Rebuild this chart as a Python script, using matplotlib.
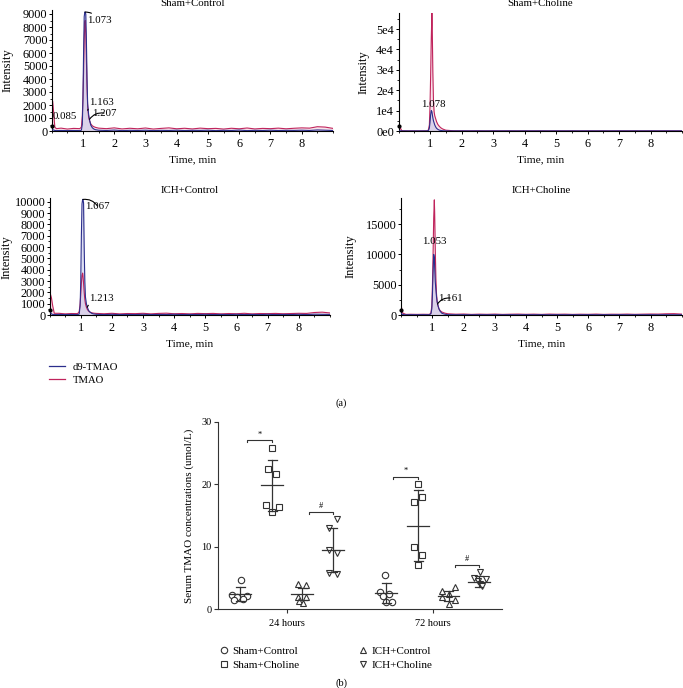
import matplotlib
matplotlib.use("Agg")
import matplotlib.pyplot as plt
from matplotlib.ticker import MultipleLocator, FixedLocator
from matplotlib.lines import Line2D

plt.rcParams['font.family'] = ['Liberation Serif', 'DejaVu Serif']

W, H = 683, 688
BLUE = '#2b2e8c'
PINK = '#c0245c'
BLUE_FILL = '#c4c6ea'
PINK_FILL = '#f2c0d2'

# ---------------- (a) chromatograms ----------------
t_min = [0.0, 0.03, 0.06, 0.1, 0.15, 0.3, 0.5, 0.7, 0.9, 0.95, 0.98, 1.0, 1.02, 1.04,
         1.06, 1.07, 1.09, 1.11, 1.13, 1.15, 1.18, 1.21, 1.25, 1.3, 1.35, 1.4, 1.45,
         1.5, 1.75, 2.0, 2.25, 2.5, 2.75, 3.0, 3.25, 3.5, 3.75, 4.0, 4.25, 4.5, 4.75,
         5.0, 5.25, 5.5, 5.75, 6.0, 6.25, 6.5, 6.75, 7.0, 7.25, 7.5, 7.75, 8.0, 8.25,
         8.5, 8.75, 9.0]

sham_ctrl_tmao = [300, 2300, 1500, 300, 180, 220, 150, 200, 180, 300, 1200, 2500, 4500, 7000,
                  8300, 8500, 7500, 5500, 3400, 1900, 1100, 800, 550, 400, 330, 280, 250,
                  220, 180, 240, 160, 210, 170, 230, 150, 200, 240, 170, 210, 160, 220,
                  180, 200, 150, 210, 170, 230, 160, 200, 180, 220, 170, 210, 240, 220,
                  330, 300, 200]
sham_ctrl_d9 = [50, 100, 80, 40, 30, 40, 30, 40, 30, 60, 500, 2500, 6000, 8800,
                9150, 9150, 9000, 7000, 4000, 2100, 1300, 850, 450, 250, 150, 100, 80,
                60, 40, 70, 30, 50, 40, 60, 30, 50, 40, 60, 35, 50, 45,
                60, 30, 50, 40, 70, 30, 50, 40, 60, 35, 50, 45, 60, 40,
                80, 60, 40]

sham_chol_tmao = [1500, 1200, 1500, 200, 100, 50, 50, 50, 100, 500, 3000, 12000, 27000, 45000,
                  58000, 52000, 29000, 15000, 9500, 7500, 6000, 4500, 3200, 2200, 1500, 1000, 700,
                  400, 100, 80, 60, 90, 50, 70, 60, 80, 50, 70, 60, 80, 50,
                  70, 60, 80, 50, 70, 60, 80, 50, 70, 60, 80, 50, 70, 60,
                  90, 70, 60]
sham_chol_d9 = [200, 100, 100, 60, 50, 40, 40, 40, 50, 200, 1500, 4000, 8000, 10000,
                9500, 8500, 6500, 5000, 4000, 3000, 2000, 1300, 800, 400, 250, 150, 100,
                60, 40, 50, 40, 50, 40, 50, 40, 50, 40, 50, 40, 50, 40,
                50, 40, 50, 40, 50, 40, 50, 40, 50, 40, 50, 40, 50, 40,
                50, 40, 50]

ich_ctrl_tmao = [2200, 1800, 1500, 800, 150, 150, 100, 130, 120, 300, 1000, 1800, 2800, 3500,
                 3700, 3500, 2800, 2000, 1400, 1000, 700, 500, 350, 250, 200, 170, 150,
                 140, 110, 150, 100, 130, 120, 150, 100, 140, 160, 110, 130, 100, 140,
                 120, 140, 100, 130, 110, 150, 100, 130, 120, 140, 110, 130, 150, 140,
                 220, 250, 180]
ich_ctrl_d9 = [500, 200, 100, 50, 40, 50, 40, 50, 40, 80, 800, 3000, 7000, 9800,
               10200, 10200, 9900, 6000, 3000, 1600, 1000, 700, 400, 250, 150, 100, 80,
               60, 40, 60, 40, 50, 40, 60, 40, 50, 45, 60, 40, 50, 45,
               60, 40, 50, 40, 60, 40, 50, 40, 60, 40, 50, 45, 60, 40,
               70, 60, 50]

ich_chol_tmao = [1500, 400, 300, 200, 100, 120, 100, 120, 100, 300, 1500, 5000, 10000, 16000,
                 19000, 17000, 11000, 6000, 3500, 2200, 1500, 1000, 700, 500, 400, 300, 250,
                 200, 130, 160, 100, 140, 110, 150, 100, 130, 150, 110, 140, 100, 150,
                 120, 140, 100, 130, 110, 150, 100, 130, 120, 150, 110, 140, 160, 150,
                 200, 220, 150]
ich_chol_d9 = [300, 100, 80, 50, 40, 50, 40, 50, 40, 200, 1000, 3500, 7000, 10000,
               9500, 8000, 5500, 4200, 3000, 2200, 1500, 1000, 600, 300, 200, 120, 80,
               60, 40, 50, 40, 50, 40, 50, 40, 50, 40, 50, 40, 50, 40,
               50, 40, 50, 40, 50, 40, 50, 40, 50, 40, 50, 40, 50, 40,
               50, 40, 50]

panel_titles = ['Sham+Control', 'Sham+Choline', 'ICH+Control', 'ICH+Choline']
tmao_traces = [sham_ctrl_tmao, sham_chol_tmao, ich_ctrl_tmao, ich_chol_tmao]
d9_traces = [sham_ctrl_d9, sham_chol_d9, ich_ctrl_d9, ich_chol_d9]
ytick_vals = [[0, 1000, 2000, 3000, 4000, 5000, 6000, 7000, 8000, 9000],
              [0, 10000, 20000, 30000, 40000, 50000],
              [0, 1000, 2000, 3000, 4000, 5000, 6000, 7000, 8000, 9000, 10000],
              [0, 5000, 10000, 15000]]
ytick_labels = [None, ['0e0', '1e4', '2e4', '3e4', '4e4', '5e4'], None, None]
ymax = [9300, 58000, 10300, 19300]
# (label, peak point, text point, alignment, leader line)
peak_labels = [
    [('1.073', (1.07, 9150), (1.12, 8500), 'left', True),
     ('1.163', (1.15, 1600), (1.19, 2230), 'left', True),
     ('1.207', (1.21, 900), (1.28, 1380), 'left', True),
     ('0.085', None, (0.04, 1150), 'left', False)],
    [('1.078', None, (1.1, 13200), 'center', False)],
    [('1.067', (1.07, 10200), (1.14, 9620), 'left', True),
     ('1.213', (1.21, 700), (1.28, 1500), 'left', True)],
    [('1.053', None, (1.06, 12100), 'center', False),
     ('1.161', (1.16, 1800), (1.17, 2800), 'left', True)],
]

# ---------------- (b) serum TMAO ----------------
groups = ['Sham+Control', 'Sham+Choline', 'ICH+Control', 'ICH+Choline']
timepoints = ['24 hours', '72 hours']
sham_ctrl_24 = [4.7, 2.3, 2.2, 1.9, 1.6, 1.5]
sham_chol_24 = [25.8, 22.4, 21.6, 16.7, 16.4, 15.6]
ich_ctrl_24 = [4.1, 3.9, 2.0, 1.9, 1.3, 1.0]
ich_chol_24 = [14.4, 13.0, 9.5, 9.0, 5.8, 5.6]
sham_ctrl_72 = [5.5, 2.8, 2.5, 2.2, 1.2, 1.1]
sham_chol_72 = [20.0, 17.9, 17.1, 9.9, 8.7, 7.1]
ich_ctrl_72 = [3.5, 2.9, 2.5, 1.9, 1.5, 0.9]
ich_chol_72 = [5.9, 5.0, 4.8, 4.5, 4.0, 3.7]
means_24 = [2.45, 19.8, 2.4, 9.5]
sds_24 = [1.05, 4.1, 0.95, 3.5]
means_72 = [2.55, 13.4, 2.2, 4.4]
sds_72 = [1.6, 5.6, 0.8, 0.85]
sig_marks = ['*', '#']

values = [[sham_ctrl_24, sham_chol_24, ich_ctrl_24, ich_chol_24],
          [sham_ctrl_72, sham_chol_72, ich_ctrl_72, ich_chol_72]]
means = [means_24, means_72]
sds = [sds_24, sds_72]


# layout helper (pixel box -> figure fractions)
def rect(x0, x1, ytop, ybot):
    return [x0 / W, 1 - ybot / H, (x1 - x0) / W, (ybot - ytop) / H]


fig = plt.figure(figsize=(W / 100, H / 100), dpi=100)

# axes boxes in pixels: x0, x1, y of zero line, px per intensity unit
boxes = [(51.7, 333, 131, 0.013), (398.5, 682, 131, 0.00204),
         (49.6, 330, 315, 0.01133), (401.3, 681.7, 315, 0.00606)]
title_y = [4, 4, 191, 191]
ylabel_x = [8, 363.7, 6.7, 351]
xlabel_gap = 29

for i in range(4):
    x0, x1, yb, k = boxes[i]
    ytop = yb - ymax[i] * k
    ax = fig.add_axes(rect(x0, x1, ytop, yb))
    ax.fill_between(t_min, tmao_traces[i], color=PINK_FILL, alpha=0.45, lw=0, zorder=1)
    ax.fill_between(t_min, d9_traces[i], color=BLUE_FILL, alpha=0.55, lw=0, zorder=1)
    ax.plot(t_min, tmao_traces[i], color=PINK, lw=0.8, zorder=2)
    ax.plot(t_min, d9_traces[i], color=BLUE, lw=0.8, zorder=3)
    ax.plot([0.0], [ymax[i] * 0.045], 'o', color='k', ms=2, zorder=4, clip_on=False)
    ax.set_xlim(0, 9)
    ax.set_ylim(0, ymax[i])
    for s in ['top', 'right']:
        ax.spines[s].set_visible(False)
    for s in ['left', 'bottom']:
        ax.spines[s].set_linewidth(0.8)
    ax.xaxis.set_major_locator(FixedLocator([1, 2, 3, 4, 5, 6, 7, 8]))
    ax.xaxis.set_minor_locator(MultipleLocator(0.5))
    ax.yaxis.set_major_locator(FixedLocator(ytick_vals[i]))
    step = ytick_vals[i][1] - ytick_vals[i][0]
    ax.yaxis.set_minor_locator(MultipleLocator(step / 2))
    if ytick_labels[i] is not None:
        ax.set_yticklabels(ytick_labels[i])
    ax.tick_params(which='major', length=2.2, width=0.7, labelsize=8.8)
    ax.tick_params(axis='y', which='major', pad=1)
    ax.tick_params(axis='x', which='major', pad=3)
    ax.tick_params(which='minor', length=1.4, width=0.6)
    hpx = yb - ytop
    ax.set_xlabel('Time, min', fontsize=8.2)
    ax.xaxis.set_label_coords(0.5, -xlabel_gap / hpx)
    ax.xaxis.label.set_va('center')
    ax.set_ylabel('Intensity', fontsize=9)
    ax.yaxis.set_label_coords((ylabel_x[i] - x0) / (x1 - x0), 0.5)
    ax.yaxis.label.set_va('center')
    fig.text((x0 + x1) / 2 / W, 1 - title_y[i] / H, panel_titles[i],
             ha='center', va='center', fontsize=7.8)
    for lab, xy, xytext, ha, arrow in peak_labels[i]:
        if arrow:
            ax.annotate(lab, xy=xy, xytext=xytext, ha=ha, va='center', fontsize=7.8,
                        arrowprops=dict(arrowstyle='-', color='k', lw=0.8,
                                        shrinkA=0, shrinkB=0,
                                        connectionstyle='arc3,rad=0.3'))
        else:
            ax.text(xytext[0], xytext[1], lab, ha=ha, va='center', fontsize=7.8)

# legend for (a)
fig.legend(handles=[Line2D([], [], color=BLUE, lw=0.9), Line2D([], [], color=PINK, lw=0.9)],
           labels=['d9-TMAO', 'TMAO'], loc='upper left',
           bbox_to_anchor=(44 / W, 1 - 357 / H), frameon=False, fontsize=7.7,
           handlelength=1.45, handletextpad=0.7, labelspacing=0.35, borderpad=0)
fig.text(341 / W, 1 - 403 / H, '(a)', ha='center', va='center', fontsize=7.5)

# ---------------- (b) axes ----------------
axb = fig.add_axes(rect(218.3, 501.7, 421.7, 609.3))
offsets = [-0.32, -0.10, 0.106, 0.314]
jitter_px = [[[1, -8, 7, -3, 3, -6], [0, -4, 4, -6, 6.5, 0], [-4, 4, -4, 4, -3, 1], [4, -4, -4, 4, -4, 4]],
             [[-1, -6, 3, -3, 0, 6], [0, 3.7, -4.6, -4.6, 3.7, 0], [6.7, -6.3, 0, -6.3, 6.7, 0], [1, -5, 7, -1, 1, 3]]]
markers = ['o', 's', '^', 'v']
px_per_unit = 146.0
INK = '#333333'
for ti in range(2):
    for gi in range(4):
        xc = ti + offsets[gi]
        xs = [xc + j / px_per_unit for j in jitter_px[ti][gi]]
        axb.plot(xs, values[ti][gi], linestyle='none', marker=markers[gi], ms=4.6,
                 mfc='white', mec=INK, mew=0.8, zorder=3)
        m, s = means[ti][gi], sds[ti][gi]
        axb.plot([xc - 0.075, xc + 0.075], [m, m], color=INK, lw=0.9, zorder=4)
        axb.plot([xc, xc], [m - s, m + s], color=INK, lw=0.9, zorder=4)
        axb.plot([xc - 0.03, xc + 0.03], [m + s, m + s], color=INK, lw=0.9, zorder=4)
        axb.plot([xc - 0.03, xc + 0.03], [m - s, m - s], color=INK, lw=0.9, zorder=4)
    # significance brackets: sham ctrl vs sham chol (*), ich ctrl vs ich chol (#)
    for k, (a, b) in enumerate([(0, 1), (2, 3)]):
        top = max(values[ti][b]) + 1.2
        xa, xb = ti + offsets[a] + 0.045, ti + offsets[b]
        axb.plot([xa, xa, xb, xb], [top - 0.3, top, top, top - 0.3], color=INK, lw=0.8)
        axb.text((xa + xb) / 2, top + 0.3, sig_marks[k], ha='center', va='bottom', fontsize=6)

axb.set_xlim(-0.47, 1.47)
axb.set_ylim(0, 30)
axb.set_xticks([0, 1])
axb.set_xticklabels(timepoints)
axb.set_yticks([0, 10, 20, 30])
for s in ['top', 'right']:
    axb.spines[s].set_visible(False)
for s in ['left', 'bottom']:
    axb.spines[s].set_linewidth(0.8)
    axb.spines[s].set_color(INK)
axb.tick_params(length=3, width=0.8, labelsize=7.5, pad=2, color=INK)
axb.tick_params(axis='x', pad=4)
axb.set_ylabel('Serum TMAO concentrations (umol/L)', fontsize=8, labelpad=5)

leg_handles = [Line2D([], [], linestyle='none', marker=mk, ms=4.6, mfc='white', mec=INK, mew=0.8)
               for mk in markers]
fig.legend(handles=leg_handles, labels=groups, loc='upper left', ncol=2,
           bbox_to_anchor=(213.6 / W, 1 - 641 / H), frameon=False, fontsize=8,
           handlelength=0.8, handletextpad=0.41, columnspacing=5.3, labelspacing=0.36, borderpad=0)
fig.text(341 / W, 1 - 683 / H, '(b)', ha='center', va='center', fontsize=7.5)

fig.savefig('out.png', dpi=100)
